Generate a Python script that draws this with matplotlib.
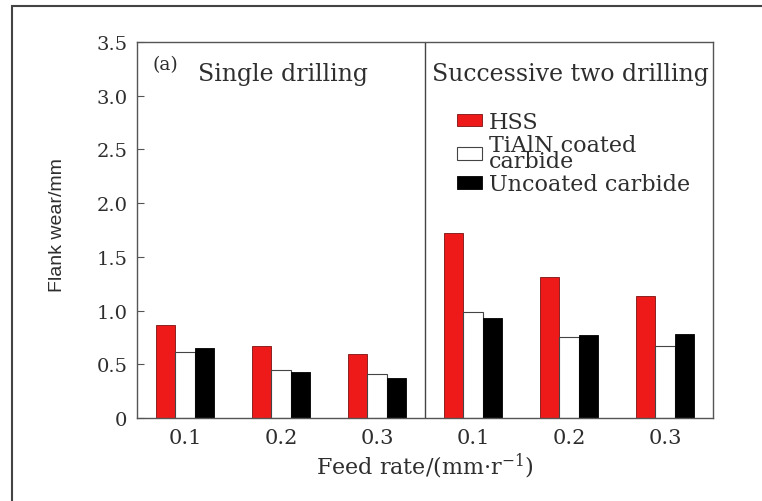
import numpy as np
import matplotlib
matplotlib.use("Agg")
import matplotlib.pyplot as plt
from matplotlib.patches import Rectangle

# Flank wear data
feed_labels = ["0.1", "0.2", "0.3", "0.1", "0.2", "0.3"]
hss = [0.87, 0.67, 0.60, 1.72, 1.31, 1.14]
tialn = [0.61, 0.45, 0.41, 0.99, 0.75, 0.67]
uncoated = [0.65, 0.43, 0.37, 0.93, 0.77, 0.78]
series_names = ["HSS", "TiAlN coated\ncarbide", "Uncoated carbide"]
yticks = [0, 0.5, 1.0, 1.5, 2.0, 2.5, 3.0, 3.5]
ytick_labels = ["0", "0.5", "1.0", "1.5", "2.0", "2.5", "3.0", "3.5"]

plt.rcParams["font.family"] = ["DejaVu Serif"]
plt.rcParams["mathtext.fontset"] = "dejavuserif"
txt_col = "#2e2e2e"

fig = plt.figure(figsize=(7.62, 5.02), dpi=100)
ax = fig.add_axes([137/762, 1 - 419/502, 576/762, 376/502])

x = np.arange(len(feed_labels))
w = 0.2
ax.bar(x - w, hss, w, color="#ee1a1a", edgecolor="#7a1010", linewidth=0.6, label=series_names[0])
ax.bar(x, tialn, w, color="white", edgecolor="#444444", linewidth=0.8, label=series_names[1])
ax.bar(x + w, uncoated, w, color="black", edgecolor="black", linewidth=0.6, label=series_names[2])

ax.axvline(2.5, color="#444444", lw=1.0)

ax.set_xlim(-0.5, 5.5)
ax.set_ylim(0, 3.5)
ax.set_xticks(x)
ax.set_xticklabels(feed_labels)
ax.set_yticks(yticks)
ax.set_yticklabels(ytick_labels)
ax.tick_params(axis="y", direction="in", length=5, width=0.8, color="#555555",
               labelsize=14, labelcolor=txt_col, pad=7)
ax.tick_params(axis="x", length=0, labelsize=15, labelcolor=txt_col, pad=7)
for s in ax.spines.values():
    s.set_color("#555555")
    s.set_linewidth(1.0)

ax.set_xlabel("Feed rate/(mm\u00b7r$^{-1}$)", fontsize=16, color=txt_col, labelpad=3)
fig.text(58/762, 1 - 225/502, "Flank wear/mm", rotation=90, fontsize=14,
         family=["Liberation Sans", "DejaVu Sans"], color=txt_col,
         ha="center", va="center")

ax.text(0.05, 0.94, "(a)", transform=ax.transAxes, fontsize=13.5, color=txt_col,
        ha="center", va="center")
ax.text(0.253, 0.915, "Single drilling", transform=ax.transAxes, fontsize=17,
        color=txt_col, ha="center", va="center")
ax.text(0.753, 0.915, "Successive two drilling", transform=ax.transAxes, fontsize=17,
        color=txt_col, ha="center", va="center")

leg = ax.legend(loc="upper left", bbox_to_anchor=(0.54, 0.84), frameon=False,
                fontsize=16, handlelength=1.15, handleheight=0.5, handletextpad=0.3,
                labelspacing=0.05, borderaxespad=0)
for t in leg.get_texts():
    t.set_color(txt_col)
    t.set_linespacing(0.65)

# outer frame (left and top edges visible)
fig.patches.append(Rectangle((12/762, -0.1), 1.2, 1 - 7/502 + 0.1,
                             transform=fig.transFigure, fill=False,
                             edgecolor="#444444", lw=1.5))

fig.savefig("out.png", dpi=100)
